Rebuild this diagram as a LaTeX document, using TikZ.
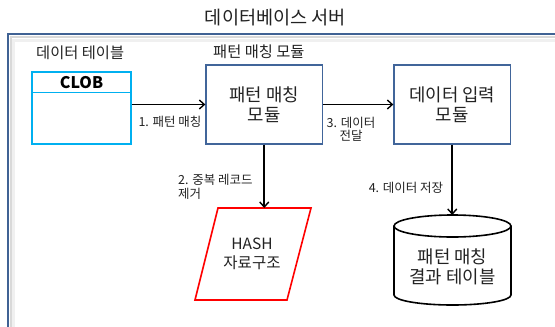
\documentclass[tikz,border=0pt]{standalone}
\usepackage{fontspec}
\setmainfont{Noto Sans CJK KR}
\newfontfamily\kr{Noto Sans CJK KR}
\usetikzlibrary{arrows.meta}
\definecolor{boxblue}{RGB}{65,101,154}
\definecolor{framblue}{RGB}{64,98,148}
\definecolor{clobcyan}{RGB}{0,176,240}
\definecolor{hashred}{RGB}{255,0,0}
\definecolor{txt}{RGB}{34,34,34}
\tikzset{
  modbox/.style={draw=boxblue, line width=1.3pt, fill=white, align=center, inner sep=0pt,
    text=txt, font=\kr\fontsize{17.8}{20.5}\selectfont, minimum width=116.5pt, minimum height=79pt},
  clobbox/.style={draw=clobcyan, line width=1.6pt, fill=white, inner sep=0pt, minimum width=99pt},
  lbl/.style={text=txt, inner sep=0pt, font=\kr\fontsize{15.3}{17}\selectfont},
  small/.style={text=txt, inner sep=0pt, font=\kr\fontsize{12.5}{13.5}\selectfont},
  arr/.style={draw=black, line width=1.6pt, -{Straight Barb[length=5pt,width=9pt,line width=1.4pt]}},
  bigtxt/.style={text=txt, inner sep=0pt, align=center, font=\kr\fontsize{17.8}{20.5}\selectfont}
}
\begin{document}
\begin{tikzpicture}[x=1pt,y=-1pt]
\useasboundingbox (0,0) rectangle (555,327);
\fill[white] (0,0) rectangle (555,327);
% outer frame with inner shadow
\draw[gray!12, line width=3pt] (555,40) -- (13.5,40) -- (13.5,327);
\draw[gray!30, line width=2pt] (555,37) -- (10.5,37) -- (10.5,327);
\draw[framblue, line width=2pt] (555,34) -- (7.5,34) -- (7.5,327);
% title
\node[text=txt, inner sep=0pt, font=\kr\fontsize{18.6}{20}\selectfont] (title) at (275.5,18) {데이터베이스 서버};
% section labels
\node[lbl, anchor=west] (tbllbl) at (36,52.5) {데이터 테이블};
\node[lbl, anchor=west] (pmlbl) at (213,52) {패턴 매칭 모듈};
% CLOB table
\node[clobbox, minimum height=72pt] (clob) at (81.5,108) {};
\node[clobbox, minimum height=20.5pt, anchor=north, text=black,
      font=\kr\fontsize{16}{18}\selectfont\bfseries] (clobhead) at (clob.north) {CLOB};
% modules
\node[modbox] (pm) at (264.25,104.5) {패턴 매칭\\모듈};
\node[modbox] (dm) at (452.25,104.5) {데이터 입력\\모듈};
% HASH parallelogram
\coordinate (h1) at (218,208);
\coordinate (h2) at (311,208);
\coordinate (h3) at (287,300);
\coordinate (h4) at (195,300);
\coordinate (hashtop) at (264.25,208);
\draw[hashred, line width=1.6pt, fill=white] (h1) -- (h2) -- (h3) -- (h4) -- cycle;
\node[bigtxt, font=\kr\fontsize{15.5}{18.5}\selectfont] (hash) at (252,254) {HASH\\자료구조};
% cylinder
\coordinate (dbtop) at (452.25,215);
\draw[black, line width=1.6pt, fill=white]
  (394,226) -- (394,295) arc[start angle=180, end angle=360, x radius=58.5pt, y radius=10pt]
  -- (511,226);
\draw[black, line width=1.6pt, fill=white] (452.5,226) ellipse[x radius=58.5pt, y radius=11pt];
\node[bigtxt] (db) at (452.5,267) {패턴 매칭\\결과 테이블};
% connectors
\draw[arr] (clob.east |- pm.west) -- (pm.west);
\draw[arr] (pm.east) -- (dm.west);
\draw[arr] (pm.south) -- (hashtop);
\draw[arr] (dm.south) -- (dbtop);
% connector labels
\node[small] (l1) at (170,122) {1. 패턴 매칭};
\node[small, align=center] (l3) at (351,129) {3. 데이터\\전달};
\node[small, align=left, anchor=west] (l2) at (178,187) {2. 중복 레코드\\제거};
\node[small] (l4) at (406,188) {4. 데이터 저장};
\end{tikzpicture}
\end{document}
